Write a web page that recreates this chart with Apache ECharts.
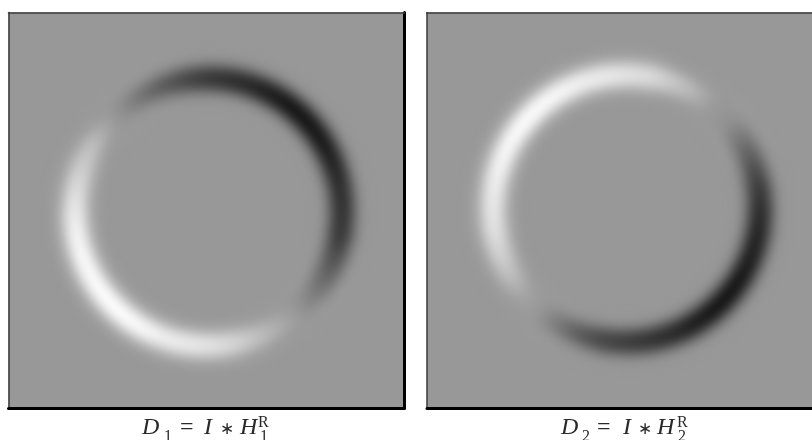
<!DOCTYPE html>
<html><head><meta charset="utf-8">
<style>html,body{margin:0;padding:0;background:#fff}#c{width:812px;height:440px;overflow:hidden}</style>
<script src="https://cdn.jsdelivr.net/npm/echarts@6/dist/echarts.min.js"></script>
</head><body><div id="c"></div>
<script>
// ring radii (rows) and angles (degrees, counter-clockwise from east)
const radii = [110,116,122,128,134,140,146,152,158];
const angles = [0,10,20,30,40,50,60,70,80,90,100,110,120,130,140,150,160,170,180,190,200,210,220,230,240,250,260,270,280,290,300,310,320,330,340,350];
// gray level of D1 at each angle (one line per angle), inner to outer radius
const d1Gray = [
[150,138,101,60,50,60,101,138,150],[150,137,99,56,45,56,99,137,150],[149,135,94,47,35,47,94,135,149],[149,134,89,38,25,38,89,134,149],
[149,133,87,33,20,33,87,133,149],[149,133,86,32,18,32,86,133,149],[149,134,89,38,25,38,89,134,149],[149,135,94,47,35,47,94,135,149],
[150,137,99,56,45,56,99,137,150],[150,138,104,65,55,65,104,138,150],[150,140,115,80,70,80,115,142,152],[152,145,130,100,90,100,130,147,153],
[153,150,140,120,115,122,142,151,153],[153,152,148,142,140,144,150,153,153],[153,153,155,160,165,160,155,153,153],[153,155,165,185,190,185,165,156,153],
[154,160,178,198,205,198,178,160,154],[155,163,186,213,220,213,186,163,155],[155,165,194,227,235,227,194,165,155],[156,167,199,236,245,236,199,167,156],
[156,168,201,240,250,240,201,168,156],[156,168,202,242,252,242,202,168,156],[156,168,204,245,255,245,204,168,156],[156,168,204,245,255,245,204,168,156],
[156,168,201,240,250,240,201,168,156],[156,166,196,231,240,231,196,166,156],[155,165,194,227,235,227,194,165,155],[155,164,190,220,228,220,190,164,155],
[155,162,184,209,215,209,184,162,155],[153,158,170,190,195,190,170,158,154],[153,154,160,172,175,172,160,154,153],[153,153,153,154,156,154,153,153,153],
[153,152,146,133,130,133,146,152,153],[153,148,130,110,105,110,130,148,153],[152,143,116,87,80,87,116,143,152],[150,138,104,65,55,65,104,138,150]
];
// gray level of D2 at each angle
const d2Gray = [
[150,137,99,56,45,56,99,137,150],[150,139,107,69,60,69,107,139,150],[152,144,122,92,85,92,122,144,152],[153,150,135,118,115,118,135,150,153],
[153,153,150,146,145,146,150,153,153],[153,153,153,154,155,154,153,153,153],[153,154,162,177,180,177,162,154,153],[153,156,172,195,200,195,172,156,153],
[155,163,186,213,220,213,186,163,155],[155,164,190,220,228,220,190,164,155],[155,165,194,227,235,227,194,165,155],[156,166,196,231,240,231,196,166,156],
[156,167,200,238,248,238,200,167,156],[156,168,202,242,252,242,202,168,156],[156,168,203,243,253,243,203,168,156],[156,168,201,240,250,240,201,168,156],
[156,167,199,236,245,236,199,167,156],[155,166,195,230,238,230,195,166,155],[155,165,192,224,232,224,192,165,155],[155,164,189,218,225,218,189,164,155],
[154,160,181,204,210,204,181,160,154],[153,157,170,186,190,186,170,157,153],[153,153,157,163,165,163,157,153,153],[153,153,152,151,150,151,152,153,153],
[153,151,140,124,120,124,140,151,153],[152,145,128,96,90,96,128,145,152],[151,141,113,77,70,77,113,141,151],[150,139,107,69,60,69,107,139,150],
[150,138,101,60,50,60,101,138,150],[150,136,96,51,40,51,96,136,150],[149,134,90,40,28,40,90,134,149],[149,133,87,33,20,33,87,133,149],
[149,133,86,32,18,32,86,133,149],[149,134,88,36,22,36,88,134,149],[149,135,91,42,30,42,91,135,149],[149,135,94,47,35,47,94,135,149]
];
// caption pieces
const captionD1 = ['D','1','=','I','∗','H','R','1'];
const captionD2 = ['D','2','=','I','∗','H','R','2'];

const BG = '#989898';
const chart = echarts.init(document.getElementById('c'), null, {renderer:'canvas', width:812, height:440});
const gray = v => 'rgb(' + v + ',' + v + ',' + v + ')';

function cells(table){
  const out = [];
  angles.forEach((a,i)=>{
    radii.forEach((r,j)=>{
      out.push([r, a, table[i][j], table[(i+1)%angles.length][j]]);
    });
  });
  return out;
}
const STEP_A = 10, HALF_R = 3.4;
function renderCell(params, api){
  const r = api.value(0), a = api.value(1), v0 = api.value(2), v1 = api.value(3);
  const cx = params.coordSys.cx, cy = params.coordSys.cy;
  const p0 = api.coord([r, a]), p1 = api.coord([r, a + STEP_A]);
  const inner = api.coord([r - HALF_R, a]), outer = api.coord([r + HALF_R, a]);
  const ang = p => Math.atan2(p[1]-cy, p[0]-cx);
  const dist = p => Math.hypot(p[0]-cx, p[1]-cy);
  const start = ang(p1) - 0.004, end = ang(p0) + 0.004;
  return {
    type:'sector',
    shape:{cx, cy, r0:dist(inner), r:dist(outer), startAngle:start, endAngle:end, clockwise:true},
    style:{fill:{type:'linear', x:p0[0], y:p0[1], x2:p1[0], y2:p1[1], global:true,
      colorStops:[{offset:0,color:gray(v0)},{offset:1,color:gray(v1)}]}},
    silent:true
  };
}
function frameAxes(gridIndex, rightW){
  const base = {type:'value',gridIndex,min:0,max:1,axisTick:{show:false},axisLabel:{show:false},splitLine:{show:false}};
  return {
    x:[Object.assign({},base,{position:'bottom',axisLine:{show:true,onZero:false,lineStyle:{color:'#000',width:3}}}),
       Object.assign({},base,{position:'top',axisLine:{show:true,onZero:false,lineStyle:{color:'#3a3a3a',width:1.5}}})],
    y:[Object.assign({},base,{position:'left',axisLine:{show:true,onZero:false,lineStyle:{color:'#3a3a3a',width:1.5}}}),
       Object.assign({},base,{position:'right',axisLine:{show:rightW>0,onZero:false,lineStyle:{color:'#000',width:rightW||1}}})]
  };
}
const f1 = frameAxes(0,3), f2 = frameAxes(1,0);
const capFont = (s,st) => (st?'italic ':'') + s + 'px "Liberation Serif", serif';
function caption(parts, xs){
  const ys = [440,445,440,440,438,440,431,445];
  const sizes = [24,16,24,24,17,24,16,16];
  const ital = [1,0,0,1,0,1,0,0];
  return parts.map((t,i)=>({
    type:'text', x:xs[i], y:ys[i], silent:true, zlevel:2,
    style:{text:t, font:capFont(sizes[i],ital[i]), fill:'#2a2a2a', verticalAlign:'bottom', textBaseline:'alphabetic'}
  }));
}
chart.setOption({
  animation:false,
  backgroundColor:'#fff',
  grid:[
    {left:8.5,top:12.5,width:396,height:395.5,show:true,backgroundColor:BG,borderWidth:0},
    {left:427,top:12.5,width:400,height:395.5,show:true,backgroundColor:BG,borderWidth:0}
  ],
  xAxis:[...f1.x,...f2.x],
  yAxis:[...f1.y,...f2.y],
  polar:[{center:[208.5,212],radius:[0,200]},{center:[626.5,208.5],radius:[0,200]}],
  radiusAxis:[{polarIndex:0,min:0,max:200,show:false},{polarIndex:1,min:0,max:200,show:false}],
  angleAxis:[{polarIndex:0,min:0,max:360,startAngle:0,clockwise:false,show:false},{polarIndex:1,min:0,max:360,startAngle:0,clockwise:false,show:false}],
  series:[
    {name:'D1',type:'custom',coordinateSystem:'polar',polarIndex:0,zlevel:1,silent:true,renderItem:renderCell,data:cells(d1Gray),encode:{radius:0,angle:1}},
    {name:'D2',type:'custom',coordinateSystem:'polar',polarIndex:1,zlevel:1,silent:true,renderItem:renderCell,data:cells(d2Gray),encode:{radius:0,angle:1}}
  ],
  graphic:[
    ...caption(captionD1,[142,164,180,204,220,240,258,260]),
    ...caption(captionD2,[561,582,597,623,638,657,677,678])
  ]
});
function soften(){
  const dom = chart.getDom();
  const el = dom.querySelector('canvas[data-zr-dom-id="zr_1"]');
  if(el) el.style.filter = 'blur(4px)';
  const tx = dom.querySelector('canvas[data-zr-dom-id="zr_2"]');
  if(tx) tx.style.filter = 'blur(0.5px)';
}
soften();
chart.on('finished', soften);
</script></body></html>
